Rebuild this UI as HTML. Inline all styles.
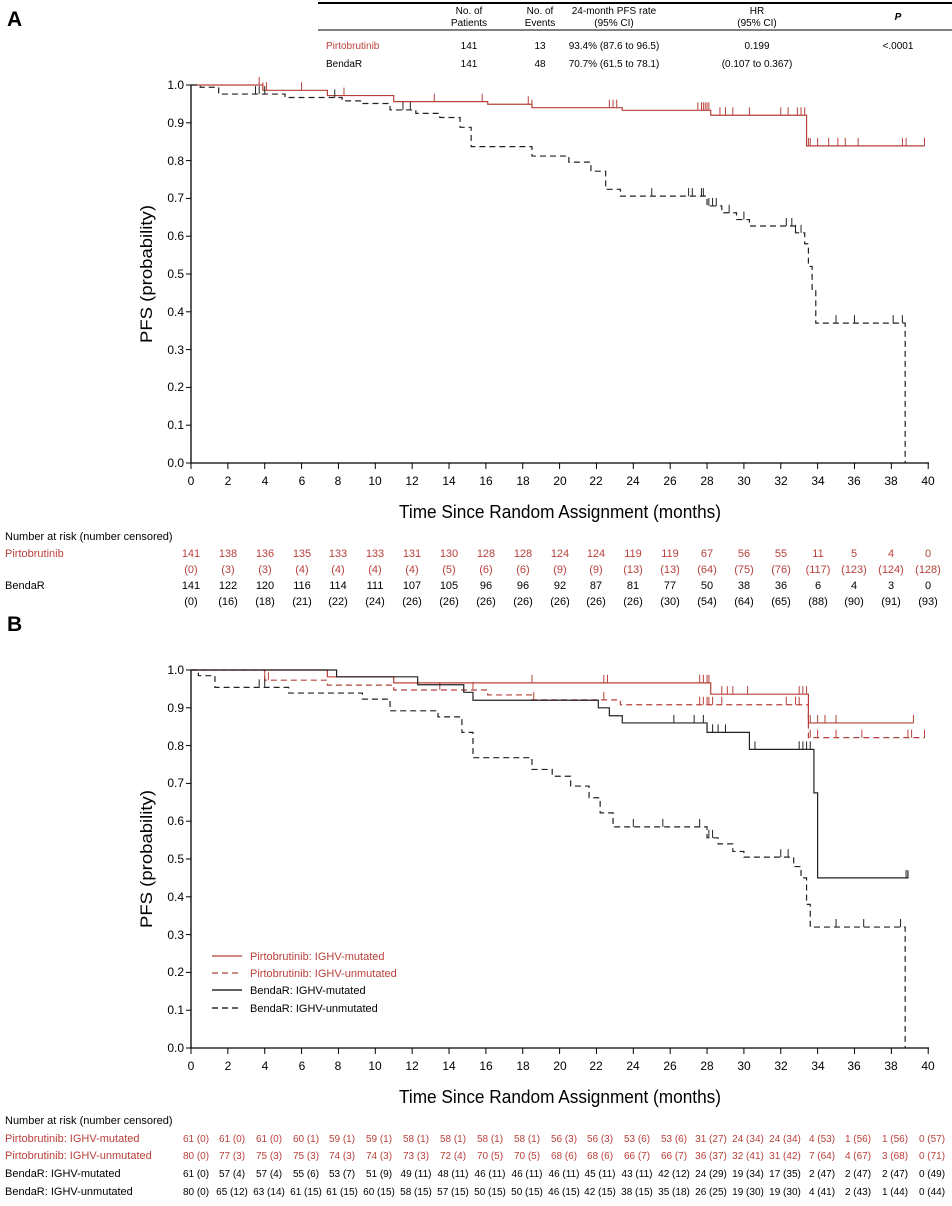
<!DOCTYPE html>
<html><head><meta charset="utf-8"><style>
body{margin:0;background:#fff}
svg{display:block;font-family:"Liberation Sans",sans-serif}
.r{fill:#b8403a}
.t{font-size:12px;text-anchor:middle}
.yl{font-size:12px;text-anchor:end}
.ar{font-size:11px;text-anchor:middle}
.br{font-size:10px;text-anchor:middle}
.lb{font-size:11px}
</style></head><body>
<svg id="s" width="952" height="1206" viewBox="0 0 952 1206" xmlns="http://www.w3.org/2000/svg">
<text x="7" y="26" font-size="21" font-weight="bold">A</text>
<text x="7" y="631" font-size="21" font-weight="bold">B</text>
<!-- table -->
<line x1="318" y1="3" x2="952" y2="3" stroke="#000" stroke-width="2"/>
<line x1="318" y1="30" x2="952" y2="30" stroke="#000" stroke-width="1"/>
<g font-size="10" text-anchor="middle">
<text x="469" y="14">No. of</text><text x="469" y="26">Patients</text>
<text x="540" y="14">No. of</text><text x="540" y="26">Events</text>
<text x="614" y="14">24-month PFS rate</text><text x="614" y="26">(95% CI)</text>
<text x="757" y="14">HR</text><text x="757" y="26">(95% CI)</text>
<text x="898" y="20" font-weight="bold" font-style="italic">P</text>
<text x="469" y="49">141</text><text x="540" y="49">13</text><text x="614" y="49">93.4% (87.6 to 96.5)</text><text x="757" y="49">0.199</text><text x="898" y="49">&lt;.0001</text>
<text x="469" y="67">141</text><text x="540" y="67">48</text><text x="614" y="67">70.7% (61.5 to 78.1)</text><text x="757" y="67">(0.107 to 0.367)</text>
</g>
<text x="326" y="49" font-size="10" class="r">Pirtobrutinib</text>
<text x="326" y="67" font-size="10">BendaR</text>

<!-- axis labels -->
<text transform="translate(152,274) rotate(-90)" font-size="17" text-anchor="middle" textLength="138" lengthAdjust="spacingAndGlyphs">PFS (probability)</text>
<text transform="translate(152,859) rotate(-90)" font-size="17" text-anchor="middle" textLength="138" lengthAdjust="spacingAndGlyphs">PFS (probability)</text>
<text x="560" y="518" font-size="18" text-anchor="middle" textLength="322" lengthAdjust="spacingAndGlyphs">Time Since Random Assignment (months)</text>
<text x="560" y="1103" font-size="18" text-anchor="middle" textLength="322" lengthAdjust="spacingAndGlyphs">Time Since Random Assignment (months)</text>

<g class="yl">
<text x="184" y="89">1.0</text><text x="184" y="127">0.9</text><text x="184" y="165">0.8</text><text x="184" y="202">0.7</text><text x="184" y="240">0.6</text><text x="184" y="278">0.5</text><text x="184" y="316">0.4</text><text x="184" y="354">0.3</text><text x="184" y="391">0.2</text><text x="184" y="429">0.1</text><text x="184" y="467">0.0</text>
<text x="184" y="674">1.0</text><text x="184" y="712">0.9</text><text x="184" y="750">0.8</text><text x="184" y="787">0.7</text><text x="184" y="825">0.6</text><text x="184" y="863">0.5</text><text x="184" y="901">0.4</text><text x="184" y="939">0.3</text><text x="184" y="976">0.2</text><text x="184" y="1014">0.1</text><text x="184" y="1052">0.0</text>
</g>
<g class="t">
<text x="191" y="485">0</text><text x="228" y="485">2</text><text x="265" y="485">4</text><text x="302" y="485">6</text><text x="338" y="485">8</text><text x="375" y="485">10</text><text x="412" y="485">12</text><text x="449" y="485">14</text><text x="486" y="485">16</text><text x="523" y="485">18</text><text x="560" y="485">20</text><text x="596" y="485">22</text><text x="633" y="485">24</text><text x="670" y="485">26</text><text x="707" y="485">28</text><text x="744" y="485">30</text><text x="781" y="485">32</text><text x="818" y="485">34</text><text x="854" y="485">36</text><text x="891" y="485">38</text><text x="928" y="485">40</text>
<text x="191" y="1070">0</text><text x="228" y="1070">2</text><text x="265" y="1070">4</text><text x="302" y="1070">6</text><text x="338" y="1070">8</text><text x="375" y="1070">10</text><text x="412" y="1070">12</text><text x="449" y="1070">14</text><text x="486" y="1070">16</text><text x="523" y="1070">18</text><text x="560" y="1070">20</text><text x="596" y="1070">22</text><text x="633" y="1070">24</text><text x="670" y="1070">26</text><text x="707" y="1070">28</text><text x="744" y="1070">30</text><text x="781" y="1070">32</text><text x="818" y="1070">34</text><text x="854" y="1070">36</text><text x="891" y="1070">38</text><text x="928" y="1070">40</text>
</g>

<!-- at risk A -->
<text x="5" y="540" class="lb">Number at risk (number censored)</text>
<text x="5" y="557" class="lb r">Pirtobrutinib</text>
<text x="5" y="589" class="lb">BendaR</text>
<g class="ar r">
<text x="191" y="557">141</text><text x="228" y="557">138</text><text x="265" y="557">136</text><text x="302" y="557">135</text><text x="338" y="557">133</text><text x="375" y="557">133</text><text x="412" y="557">131</text><text x="449" y="557">130</text><text x="486" y="557">128</text><text x="523" y="557">128</text><text x="560" y="557">124</text><text x="596" y="557">124</text><text x="633" y="557">119</text><text x="670" y="557">119</text><text x="707" y="557">67</text><text x="744" y="557">56</text><text x="781" y="557">55</text><text x="818" y="557">11</text><text x="854" y="557">5</text><text x="891" y="557">4</text><text x="928" y="557">0</text>
<text x="191" y="573">(0)</text><text x="228" y="573">(3)</text><text x="265" y="573">(3)</text><text x="302" y="573">(4)</text><text x="338" y="573">(4)</text><text x="375" y="573">(4)</text><text x="412" y="573">(4)</text><text x="449" y="573">(5)</text><text x="486" y="573">(6)</text><text x="523" y="573">(6)</text><text x="560" y="573">(9)</text><text x="596" y="573">(9)</text><text x="633" y="573">(13)</text><text x="670" y="573">(13)</text><text x="707" y="573">(64)</text><text x="744" y="573">(75)</text><text x="781" y="573">(76)</text><text x="818" y="573">(117)</text><text x="854" y="573">(123)</text><text x="891" y="573">(124)</text><text x="928" y="573">(128)</text>
</g>
<g class="ar">
<text x="191" y="589">141</text><text x="228" y="589">122</text><text x="265" y="589">120</text><text x="302" y="589">116</text><text x="338" y="589">114</text><text x="375" y="589">111</text><text x="412" y="589">107</text><text x="449" y="589">105</text><text x="486" y="589">96</text><text x="523" y="589">96</text><text x="560" y="589">92</text><text x="596" y="589">87</text><text x="633" y="589">81</text><text x="670" y="589">77</text><text x="707" y="589">50</text><text x="744" y="589">38</text><text x="781" y="589">36</text><text x="818" y="589">6</text><text x="854" y="589">4</text><text x="891" y="589">3</text><text x="928" y="589">0</text>
<text x="191" y="605">(0)</text><text x="228" y="605">(16)</text><text x="265" y="605">(18)</text><text x="302" y="605">(21)</text><text x="338" y="605">(22)</text><text x="375" y="605">(24)</text><text x="412" y="605">(26)</text><text x="449" y="605">(26)</text><text x="486" y="605">(26)</text><text x="523" y="605">(26)</text><text x="560" y="605">(26)</text><text x="596" y="605">(26)</text><text x="633" y="605">(26)</text><text x="670" y="605">(30)</text><text x="707" y="605">(54)</text><text x="744" y="605">(64)</text><text x="781" y="605">(65)</text><text x="818" y="605">(88)</text><text x="854" y="605">(90)</text><text x="891" y="605">(91)</text><text x="928" y="605">(93)</text>
</g>

<!-- at risk B -->
<text x="5" y="1124" class="lb">Number at risk (number censored)</text>
<text x="5" y="1142" class="lb r">Pirtobrutinib: IGHV-mutated</text>
<text x="5" y="1159" class="lb r">Pirtobrutinib: IGHV-unmutated</text>
<text x="5" y="1177" class="lb">BendaR: IGHV-mutated</text>
<text x="5" y="1195" class="lb">BendaR: IGHV-unmutated</text>
<g class="br r">
<text x="196" y="1142">61 (0)</text><text x="232" y="1142">61 (0)</text><text x="269" y="1142">61 (0)</text><text x="306" y="1142">60 (1)</text><text x="342" y="1142">59 (1)</text><text x="379" y="1142">59 (1)</text><text x="416" y="1142">58 (1)</text><text x="453" y="1142">58 (1)</text><text x="490" y="1142">58 (1)</text><text x="527" y="1142">58 (1)</text><text x="564" y="1142">56 (3)</text><text x="600" y="1142">56 (3)</text><text x="637" y="1142">53 (6)</text><text x="674" y="1142">53 (6)</text><text x="711" y="1142">31 (27)</text><text x="748" y="1142">24 (34)</text><text x="785" y="1142">24 (34)</text><text x="822" y="1142">4 (53)</text><text x="858" y="1142">1 (56)</text><text x="895" y="1142">1 (56)</text><text x="932" y="1142">0 (57)</text>
<text x="196" y="1159">80 (0)</text><text x="232" y="1159">77 (3)</text><text x="269" y="1159">75 (3)</text><text x="306" y="1159">75 (3)</text><text x="342" y="1159">74 (3)</text><text x="379" y="1159">74 (3)</text><text x="416" y="1159">73 (3)</text><text x="453" y="1159">72 (4)</text><text x="490" y="1159">70 (5)</text><text x="527" y="1159">70 (5)</text><text x="564" y="1159">68 (6)</text><text x="600" y="1159">68 (6)</text><text x="637" y="1159">66 (7)</text><text x="674" y="1159">66 (7)</text><text x="711" y="1159">36 (37)</text><text x="748" y="1159">32 (41)</text><text x="785" y="1159">31 (42)</text><text x="822" y="1159">7 (64)</text><text x="858" y="1159">4 (67)</text><text x="895" y="1159">3 (68)</text><text x="932" y="1159">0 (71)</text>
</g>
<g class="br">
<text x="196" y="1177">61 (0)</text><text x="232" y="1177">57 (4)</text><text x="269" y="1177">57 (4)</text><text x="306" y="1177">55 (6)</text><text x="342" y="1177">53 (7)</text><text x="379" y="1177">51 (9)</text><text x="416" y="1177">49 (11)</text><text x="453" y="1177">48 (11)</text><text x="490" y="1177">46 (11)</text><text x="527" y="1177">46 (11)</text><text x="564" y="1177">46 (11)</text><text x="600" y="1177">45 (11)</text><text x="637" y="1177">43 (11)</text><text x="674" y="1177">42 (12)</text><text x="711" y="1177">24 (29)</text><text x="748" y="1177">19 (34)</text><text x="785" y="1177">17 (35)</text><text x="822" y="1177">2 (47)</text><text x="858" y="1177">2 (47)</text><text x="895" y="1177">2 (47)</text><text x="932" y="1177">0 (49)</text>
<text x="196" y="1195">80 (0)</text><text x="232" y="1195">65 (12)</text><text x="269" y="1195">63 (14)</text><text x="306" y="1195">61 (15)</text><text x="342" y="1195">61 (15)</text><text x="379" y="1195">60 (15)</text><text x="416" y="1195">58 (15)</text><text x="453" y="1195">57 (15)</text><text x="490" y="1195">50 (15)</text><text x="527" y="1195">50 (15)</text><text x="564" y="1195">46 (15)</text><text x="600" y="1195">42 (15)</text><text x="637" y="1195">38 (15)</text><text x="674" y="1195">35 (18)</text><text x="711" y="1195">26 (25)</text><text x="748" y="1195">19 (30)</text><text x="785" y="1195">19 (30)</text><text x="822" y="1195">4 (41)</text><text x="858" y="1195">2 (43)</text><text x="895" y="1195">1 (44)</text><text x="932" y="1195">0 (44)</text>
</g>

<!-- legend -->
<line x1="212" y1="956" x2="242" y2="956" stroke="#b8403a" stroke-width="1.3"/>
<line x1="212" y1="973" x2="242" y2="973" stroke="#b8403a" stroke-width="1.3" stroke-dasharray="6,4"/>
<line x1="212" y1="990" x2="242" y2="990" stroke="#000" stroke-width="1.3"/>
<line x1="212" y1="1008" x2="242" y2="1008" stroke="#000" stroke-width="1.3" stroke-dasharray="6,4"/>
<text x="250" y="960" class="lb r">Pirtobrutinib: IGHV-mutated</text>
<text x="250" y="977" class="lb r">Pirtobrutinib: IGHV-unmutated</text>
<text x="250" y="994" class="lb">BendaR: IGHV-mutated</text>
<text x="250" y="1012" class="lb">BendaR: IGHV-unmutated</text>
<g id="g"></g>
</svg>
<script>
var NS="http://www.w3.org/2000/svg",g=document.getElementById("g");
function X(t){return 191+18.43*t}
function el(n,a){var e=document.createElementNS(NS,n);for(var k in a)e.setAttribute(k,a[k]);g.appendChild(e);return e}
function axes(y0){
 el("line",{x1:191,y1:y0,x2:191,y2:y0+378,stroke:"#000","stroke-width":1.3});
 el("line",{x1:191,y1:y0+378,x2:929,y2:y0+378,stroke:"#000","stroke-width":1.3});
 for(var i=0;i<=10;i++)el("line",{x1:186,y1:y0+37.8*i,x2:191,y2:y0+37.8*i,stroke:"#000"});
 for(var i=0;i<=20;i++)el("line",{x1:X(2*i),y1:y0+378,x2:X(2*i),y2:y0+384,stroke:"#000"});
}
function curve(y0,pts,end,col,dash,cens){
 var Y=function(p){return y0+378*(1-p)};
 var d="M"+X(0)+","+Y(pts[0][1]),p=pts[0][1];
 for(var i=1;i<pts.length;i++){d+=" H"+X(pts[i][0])+" V"+Y(pts[i][1]);p=pts[i][1];}
 d+=" H"+X(end[0]);if(end[1]!=null)d+=" V"+Y(end[1]);
 var a={d:d,fill:"none",stroke:col,"stroke-width":1.2};if(dash)a["stroke-dasharray"]="6,4";el("path",a);
 (cens||[]).forEach(function(t){var v=pts[0][1];for(var i=0;i<pts.length;i++)if(pts[i][0]<=t)v=pts[i][1];
  el("line",{x1:X(t),y1:Y(v),x2:X(t),y2:Y(v)-8,stroke:col,"stroke-width":1});});
}
var R="#b8403a";
axes(85);axes(670);
curve(85,[[0,1],[3.9,.986],[7.4,.972],[11,.956],[16.1,.949],[18.5,.94],[23.4,.933],[28.2,.92],[33.4,.839]],[39.8,null],R,false,
 [3.7,3.9,4.1,6,8.3,13.2,15.8,18.3,18.5,22.7,22.9,23.1,27.5,27.7,27.8,27.9,28,28.1,28.7,29,29.4,30.3,32,32.4,32.9,33.1,33.3,33.5,33.6,34,34.6,35.1,35.5,36.2,38.6,38.8,39.8]);
curve(85,[[0,1],[.5,.994],[1.5,.976],[5.1,.967],[8.2,.958],[9.3,.951],[10.8,.934],[12.2,.925],[13.5,.914],[14.6,.888],[15.2,.837],[18.5,.812],[20.5,.796],[21.7,.772],[22.5,.724],[23.3,.706],[28,.68],[28.8,.662],[29.6,.644],[30.3,.627],[32.8,.609],[33.3,.58],[33.5,.52],[33.7,.46],[33.9,.37]],[38.75,0],"#222",true,
 [3.5,3.7,4,7.8,11.5,11.9,25,27,27.2,27.7,27.8,28.1,28.3,28.5,29.2,30,32.3,32.6,32.8,33.1,35,36,38.1,38.6]);
curve(670,[[0,1],[7.4,.982],[11,.966],[28.2,.936],[33.5,.86]],[39.2,null],R,false,[18.5,22.4,22.6,27.6,27.8,28,28.1,28.8,29.1,29.4,30.2,33,33.2,33.4,33.6,34,34.4,35,39.2]);
curve(670,[[0,1],[4,.973],[7.4,.96],[11,.947],[16.1,.934],[18.5,.921],[23.3,.908],[33.5,.821]],[39.8,null],R,true,[4,4.2,13.5,15.3,18.6,22.4,27.6,27.8,28,28.1,28.3,28.8,32.3,32.8,33,33.6,34,35,36.4,38.9,39.1,39.8]);
curve(670,[[0,1],[7.9,.982],[12.3,.961],[14.8,.941],[15.3,.92],[22.1,.9],[22.7,.879],[23.4,.86],[28,.835],[30.3,.79],[33.8,.675],[34,.45]],[38.9,.47],"#222",false,[26.2,27.3,27.8,28,28.3,28.6,29,30.6,33,33.2,33.4,33.6,38.8]);
curve(670,[[0,1],[.4,.985],[1.3,.954],[5.3,.939],[9.3,.923],[10.8,.892],[13.4,.876],[14.7,.835],[15.3,.768],[18.5,.737],[19.6,.719],[20.6,.693],[21.6,.662],[22.2,.622],[22.9,.585],[28,.556],[28.6,.54],[29.4,.52],[30,.505],[32.7,.48],[33.1,.45],[33.4,.38],[33.6,.32]],[38.75,0],"#222",true,[3.7,4,24,25.6,27.6,28.1,28.3,32,32.4,35,36.5,38.5]);
</script>
</body></html>
